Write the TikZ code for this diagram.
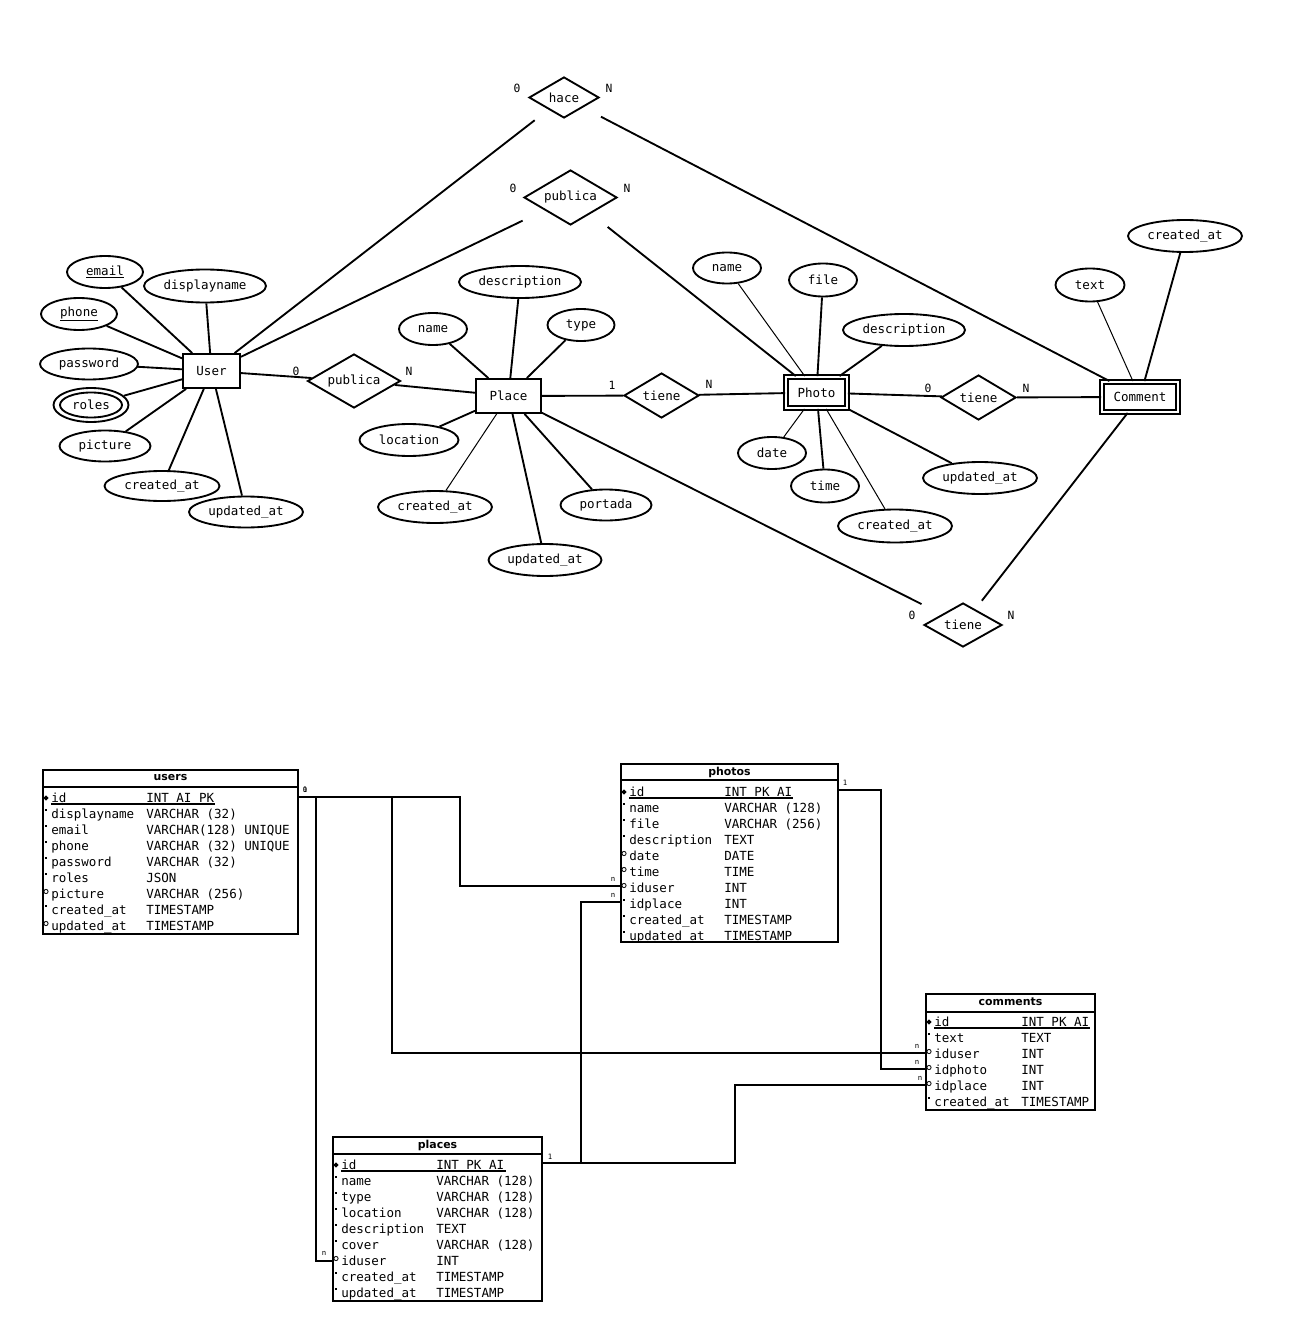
\documentclass[tikz,border=0pt]{standalone}
\usepackage{fontspec}
\usetikzlibrary{shapes.geometric}
\newfontfamily\ermono{DejaVu Sans Mono}
\newfontfamily\erhead{DejaVu Sans}
\tikzset{
 every node/.style={font=\ermono\fontsize{9.4}{11}\selectfont},
 sz/.style 2 args={minimum width=#1*0.75pt, minimum height=#2*0.75pt},
 attr/.style={ellipse, draw, line width=1.4pt, inner sep=0pt},
 ent/.style={rectangle, draw, line width=1.4pt, inner sep=0pt},
 went/.style={ent, double, double distance=1.5pt},
 rel/.style={diamond, draw, line width=1.4pt, inner sep=0pt, aspect=2.2},
 card/.style={font=\ermono\fontsize{8.5}{10}\selectfont, inner sep=0pt},
 lk/.style={line width=1.4pt},
 lt/.style={line width=0.75pt},
 tbl/.style={rectangle, draw, line width=1.4pt, inner sep=0pt},
 tcard/.style={font=\ermono\fontsize{5.5}{6}\selectfont, inner sep=0pt},
 trow/.style={font=\ermono\fontsize{9.4}{11}\selectfont, anchor=base west, inner sep=0pt},
 thead/.style={font=\erhead\bfseries\fontsize{8.2}{10}\selectfont, inner sep=0pt},
}
\newcommand\trw[7]{%
 \ifx k#3\fill (#1-2.6,#2) -- (#1,#2-2.6) -- (#1+2.6,#2) -- (#1,#2+2.6) -- cycle;\fi
 \ifx d#3\fill (#1-1.1,#2-5.5) rectangle (#1+1.1,#2-3.3);\fi
 \ifx o#3\draw[line width=0.6pt] (#1,#2-2.5) circle (2.1);\fi
 \node[trow] at (#4,#2+4.5) {#5};
 \node[trow] at (#6,#2+4.5) {#7};
}
\begin{document}
\begin{tikzpicture}[x=0.75pt,y=-0.75pt]
\useasboundingbox (0,0) rectangle (1305,1344);

% ---------------- ER diagram ----------------
% User
\node[ent,sz={57}{34}] (user) at (211.5,371) {User};
\node[attr,sz={76}{32}] (uemail) at (105,272) {\underline{email}};
\node[attr,sz={122}{33}] (udisp) at (205,286) {displayname};
\node[attr,sz={76}{32}] (uphone) at (79,314) {\underline{phone}};
\node[attr,sz={98}{31}] (upass) at (89,364) {password};
\node[attr,sz={75}{34}] (uroles) at (91,405) {roles};
\draw[lk] (uroles.center) ellipse (31 and 12.5);
\node[attr,sz={91}{31}] (upic) at (105,446) {picture};
\node[attr,sz={115}{30}] (ucre) at (162,486) {created\_at};
\node[attr,sz={114}{31}] (uupd) at (246,512) {updated\_at};
\foreach \a in {uemail,udisp,uphone,upass,uroles,upic,ucre,uupd} \draw[lk] (user) -- (\a);

% Place
\node[ent,sz={65}{34}] (place) at (508.5,396) {Place};
\node[attr,sz={122}{32}] (pdesc) at (520,282) {description};
\node[attr,sz={68}{32}] (pname) at (433,329) {name};
\node[attr,sz={67}{32}] (ptype) at (581,325) {type};
\node[attr,sz={99}{32}] (ploc) at (409,440) {location};
\node[attr,sz={114}{32}] (pcre) at (435,507) {created\_at};
\node[attr,sz={91}{31}] (pport) at (606,505) {portada};
\node[attr,sz={113}{32}] (pupd) at (545,560) {updated\_at};
\foreach \a in {pdesc,pname,ptype,ploc,pport,pupd} \draw[lk] (place) -- (\a);
\draw[lt] (place) -- (pcre);

% Photo
\node[went,sz={61}{31}] (photo) at (816.5,392.5) {Photo};
\node[attr,sz={68}{31}] (phname) at (727,268) {name};
\node[attr,sz={68}{33}] (phfile) at (823,280) {file};
\node[attr,sz={122}{32}] (phdesc) at (904,330) {description};
\node[attr,sz={68}{32}] (phdate) at (772,453) {date};
\node[attr,sz={68}{33}] (phtime) at (825,486) {time};
\node[attr,sz={114}{32}] (phupd) at (980,478) {updated\_at};
\node[attr,sz={114}{33}] (phcre) at (895,526) {created\_at};
\foreach \a in {phfile,phdesc,phtime,phupd} \draw[lk] (photo) -- (\a);
\foreach \a in {phname,phdate,phcre} \draw[lt] (photo) -- (\a);

% Comment
\node[went,sz={76}{30}] (comment) at (1140,397) {Comment};
\node[attr,sz={114}{32}] (ccre) at (1185,236) {created\_at};
\node[attr,sz={69}{33}] (ctext) at (1090,285) {text};
\draw[lk] (comment) -- (ccre);
\draw[lt] (comment) -- (ctext);

% Relationships
\node[rel,sz={70}{41}] (hace) at (564,97.5) {hace};
\node[rel,sz={93}{55}] (pubtop) at (570.5,197.5) {publica};
\node[rel,sz={93}{54}] (pubsm) at (354,381) {publica};
\node[rel,sz={75}{45}] (tmid) at (661.5,395.5) {tiene};
\node[rel,sz={75}{45}] (tright) at (978.5,397.5) {tiene};
\node[rel,sz={78}{44}] (tlow) at (963,625) {tiene};

\draw[lk,shorten >=13pt] (user) -- (hace);
\draw[lk,shorten <=15pt] (hace) -- (comment);
\draw[lk,shorten >=18pt] (user) -- (pubtop);
\draw[lk,shorten <=16pt] (pubtop) -- (photo);
\draw[lk] (user) -- (pubsm);
\draw[lk] (pubsm) -- (place);
\draw[lk] (place) -- (tmid);
\draw[lk] (tmid) -- (photo);
\draw[lk] (photo) -- (tright);
\draw[lk] (tright) -- (comment);
\draw[lk,shorten >=17pt] (place) -- (tlow);
\draw[lk,shorten <=8pt] (tlow) -- (comment);

% cardinalities
\node[card] (c1) at (517,88) {0};
\node[card] (c2) at (609,88) {N};
\node[card] (c3) at (513,188) {0};
\node[card] (c4) at (627,188) {N};
\node[card] (c5) at (296,371) {0};
\node[card] (c6) at (409,371) {N};
\node[card] (c7) at (612,385) {1};
\node[card] (c8) at (709,384) {N};
\node[card] (c9) at (928,388) {0};
\node[card] (c10) at (1026,388) {N};
\node[card] (c11) at (912,615) {0};
\node[card] (c12) at (1011,615) {N};

% ---------------- Tables ----------------
% users
\node[tbl,sz={255}{164}] (users) at (170.5,852) {};
\draw[lk] (43,787) -- (298,787);
\node[thead] (usersh) at (170.5,778) {users};
\trw{46}{798}{k}{51}{id}{146}{INT AI PK}
\trw{46}{814}{d}{51}{displayname}{146}{VARCHAR (32)}
\trw{46}{830}{d}{51}{email}{146}{VARCHAR(128) UNIQUE}
\trw{46}{846}{d}{51}{phone}{146}{VARCHAR (32) UNIQUE}
\trw{46}{862}{d}{51}{password}{146}{VARCHAR (32)}
\trw{46}{878}{d}{51}{roles}{146}{JSON}
\trw{46}{894}{o}{51}{picture}{146}{VARCHAR (256)}
\trw{46}{910}{d}{51}{created\_at}{146}{TIMESTAMP}
\trw{46}{926}{o}{51}{updated\_at}{146}{TIMESTAMP}
\draw[line width=0.8pt] (51,804) -- (215,804);

% photos
\node[tbl,sz={217}{178}] (photos) at (729.5,853) {};
\draw[lk] (621,780) -- (838,780);
\node[thead] (photosh) at (729.5,772) {photos};
\trw{624}{792}{k}{629}{id}{724}{INT PK AI}
\trw{624}{808}{d}{629}{name}{724}{VARCHAR (128)}
\trw{624}{824}{d}{629}{file}{724}{VARCHAR (256)}
\trw{624}{840}{d}{629}{description}{724}{TEXT}
\trw{624}{856}{o}{629}{date}{724}{DATE}
\trw{624}{872}{o}{629}{time}{724}{TIME}
\trw{624}{888}{o}{629}{iduser}{724}{INT}
\trw{624}{904}{d}{629}{idplace}{724}{INT}
\trw{624}{920}{d}{629}{created\_at}{724}{TIMESTAMP}
\trw{624}{936}{d}{629}{updated\_at}{724}{TIMESTAMP}
\draw[line width=0.8pt] (629,798) -- (793,798);

% comments
\node[tbl,sz={169}{116}] (comments) at (1010.5,1052) {};
\draw[lk] (926,1012) -- (1095,1012);
\node[thead] (commentsh) at (1010.5,1002) {comments};
\trw{929}{1022}{k}{934}{id}{1021}{INT PK AI}
\trw{929}{1038}{d}{934}{text}{1021}{TEXT}
\trw{929}{1054}{o}{934}{iduser}{1021}{INT}
\trw{929}{1070}{o}{934}{idphoto}{1021}{INT}
\trw{929}{1086}{o}{934}{idplace}{1021}{INT}
\trw{929}{1102}{d}{934}{created\_at}{1021}{TIMESTAMP}
\draw[line width=0.8pt] (934,1028) -- (1090,1028);

% places
\node[tbl,sz={209}{164}] (places) at (437.5,1219) {};
\draw[lk] (333,1154) -- (542,1154);
\node[thead] (placesh) at (437.5,1145) {places};
\trw{336}{1165}{k}{341}{id}{436}{INT PK AI}
\trw{336}{1181}{d}{341}{name}{436}{VARCHAR (128)}
\trw{336}{1197}{d}{341}{type}{436}{VARCHAR (128)}
\trw{336}{1213}{d}{341}{location}{436}{VARCHAR (128)}
\trw{336}{1229}{d}{341}{description}{436}{TEXT}
\trw{336}{1245}{d}{341}{cover}{436}{VARCHAR (128)}
\trw{336}{1261}{o}{341}{iduser}{436}{INT}
\trw{336}{1277}{d}{341}{created\_at}{436}{TIMESTAMP}
\trw{336}{1293}{d}{341}{updated\_at}{436}{TIMESTAMP}
\draw[line width=0.8pt] (341,1171) -- (506,1171);

% table connectors
\draw[lk] (users.east |- 0,797) -- (460,797) -- (460,886) -- (photos.west |- 0,886);
\draw[lk] (316,797) -- (316,1261) -- (places.west |- 0,1261);
\draw[lk] (392,797) -- (392,1053) -- (comments.west |- 0,1053);
\draw[lk] (photos.east |- 0,790) -- (881,790) -- (881,1069) -- (comments.west |- 0,1069);
\draw[lk] (places.east |- 0,1163) -- (735,1163) -- (735,1085) -- (comments.west |- 0,1085);
\draw[lk] (581,1163) -- (581,902) -- (photos.west |- 0,902);

\node[tcard] (t1) at (305,790) {1};
\node[tcard] (t1b) at (305,790) {0};
\node[tcard] (t2) at (613,879) {n};
\node[tcard] (t3) at (613,895) {n};
\node[tcard] (t4) at (845,783) {1};
\node[tcard] (t5) at (917,1046) {n};
\node[tcard] (t6) at (917,1062) {n};
\node[tcard] (t7) at (920,1078) {n};
\node[tcard] (t8) at (550,1157) {1};
\node[tcard] (t9) at (324,1253) {n};
\end{tikzpicture}
\end{document}
